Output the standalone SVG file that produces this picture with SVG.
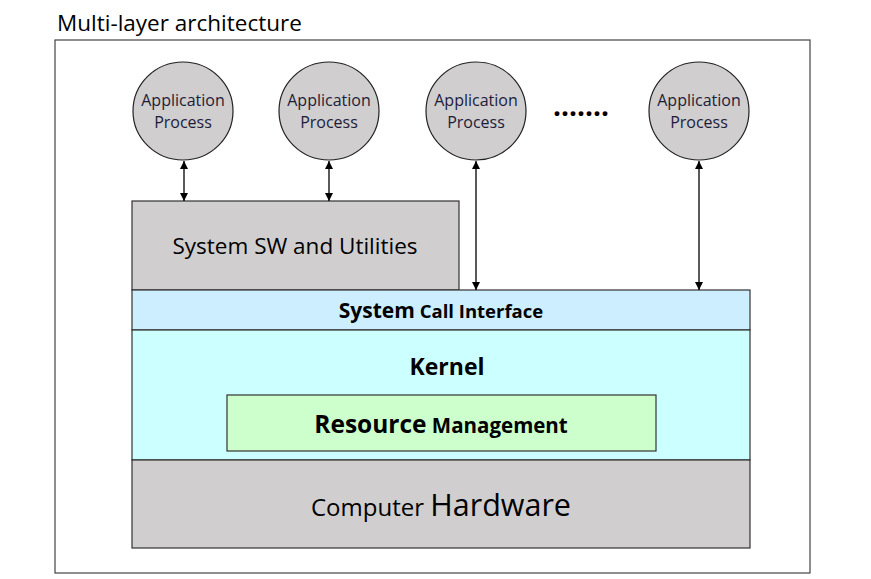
<svg xmlns="http://www.w3.org/2000/svg" width="871" height="579" viewBox="0 0 871 579">
<defs>
<marker id="ah" viewBox="0 0 10 10" refX="10" refY="5" markerWidth="8" markerHeight="8" orient="auto-start-reverse" markerUnits="userSpaceOnUse"><path d="M0,0 L10,5 L0,10 z" fill="#000"/></marker>
<style>
text{font-family:"Open Sans","Noto Sans",sans-serif;fill:#000}
.box{stroke:#333;stroke-width:1.2}
.gray{fill:#d0cece}
.proc{fill:#d0cece;stroke:#222;stroke-width:1.2}
.pt{font-size:16px;text-anchor:middle;fill:#1c1c3a}
.c{stroke:#000;stroke-width:1.3;fill:none;marker-start:url(#ah);marker-end:url(#ah)}
</style>
</defs>
<rect width="871" height="579" fill="#fff"/>
<text x="57" y="31" font-size="22.5">Multi-layer architecture</text>
<rect x="55" y="40" width="755" height="533" fill="none" stroke="#444" stroke-width="1.2"/>
<g id="p1"><ellipse cx="183" cy="111" rx="50" ry="49" class="proc"/><text class="pt" x="183" y="106">Application</text><text class="pt" x="183" y="128">Process</text></g>
<g id="p2"><ellipse cx="329" cy="111" rx="50" ry="49" class="proc"/><text class="pt" x="329" y="106">Application</text><text class="pt" x="329" y="128">Process</text></g>
<g id="p3"><ellipse cx="476" cy="111" rx="50" ry="49" class="proc"/><text class="pt" x="476" y="106">Application</text><text class="pt" x="476" y="128">Process</text></g>
<g id="p4"><ellipse cx="699" cy="111" rx="50" ry="49" class="proc"/><text class="pt" x="699" y="106">Application</text><text class="pt" x="699" y="128">Process</text></g>
<text x="581" y="116" font-size="28" font-weight="bold" text-anchor="middle">.......</text>
<g id="sysw"><rect x="132" y="201" width="327" height="89" class="box gray"/><text x="295" y="254" font-size="22.5" text-anchor="middle">System SW and Utilities</text></g>
<g id="sci"><rect x="132" y="290" width="618" height="40" class="box" fill="#cceeff"/><text x="441" y="318" text-anchor="middle" font-weight="bold"><tspan font-size="21">System</tspan><tspan font-size="18.5"> Call Interface</tspan></text></g>
<g id="kernel"><rect x="132" y="330" width="618" height="130" class="box" fill="#ccffff"/><text x="447" y="375" font-size="23" font-weight="bold" text-anchor="middle">Kernel</text></g>
<g id="rm"><rect x="227" y="395" width="429" height="56" class="box" fill="#ccffcc"/><text x="441" y="433" text-anchor="middle" font-weight="bold"><tspan font-size="24.5">Resource</tspan><tspan font-size="20.5"> Management</tspan></text></g>
<g id="hw"><rect x="132" y="460" width="618" height="88" class="box gray"/><text x="441" y="516" text-anchor="middle"><tspan font-size="24">Computer </tspan><tspan font-size="30.5">Hardware</tspan></text></g>
<g id="connectors">
<line x1="184" y1="161" x2="184" y2="201" class="c"/>
<line x1="329" y1="161" x2="329" y2="201" class="c"/>
<line x1="476" y1="161" x2="476" y2="290" class="c"/>
<line x1="699" y1="161" x2="699" y2="290" class="c"/>
</g>
</svg>
